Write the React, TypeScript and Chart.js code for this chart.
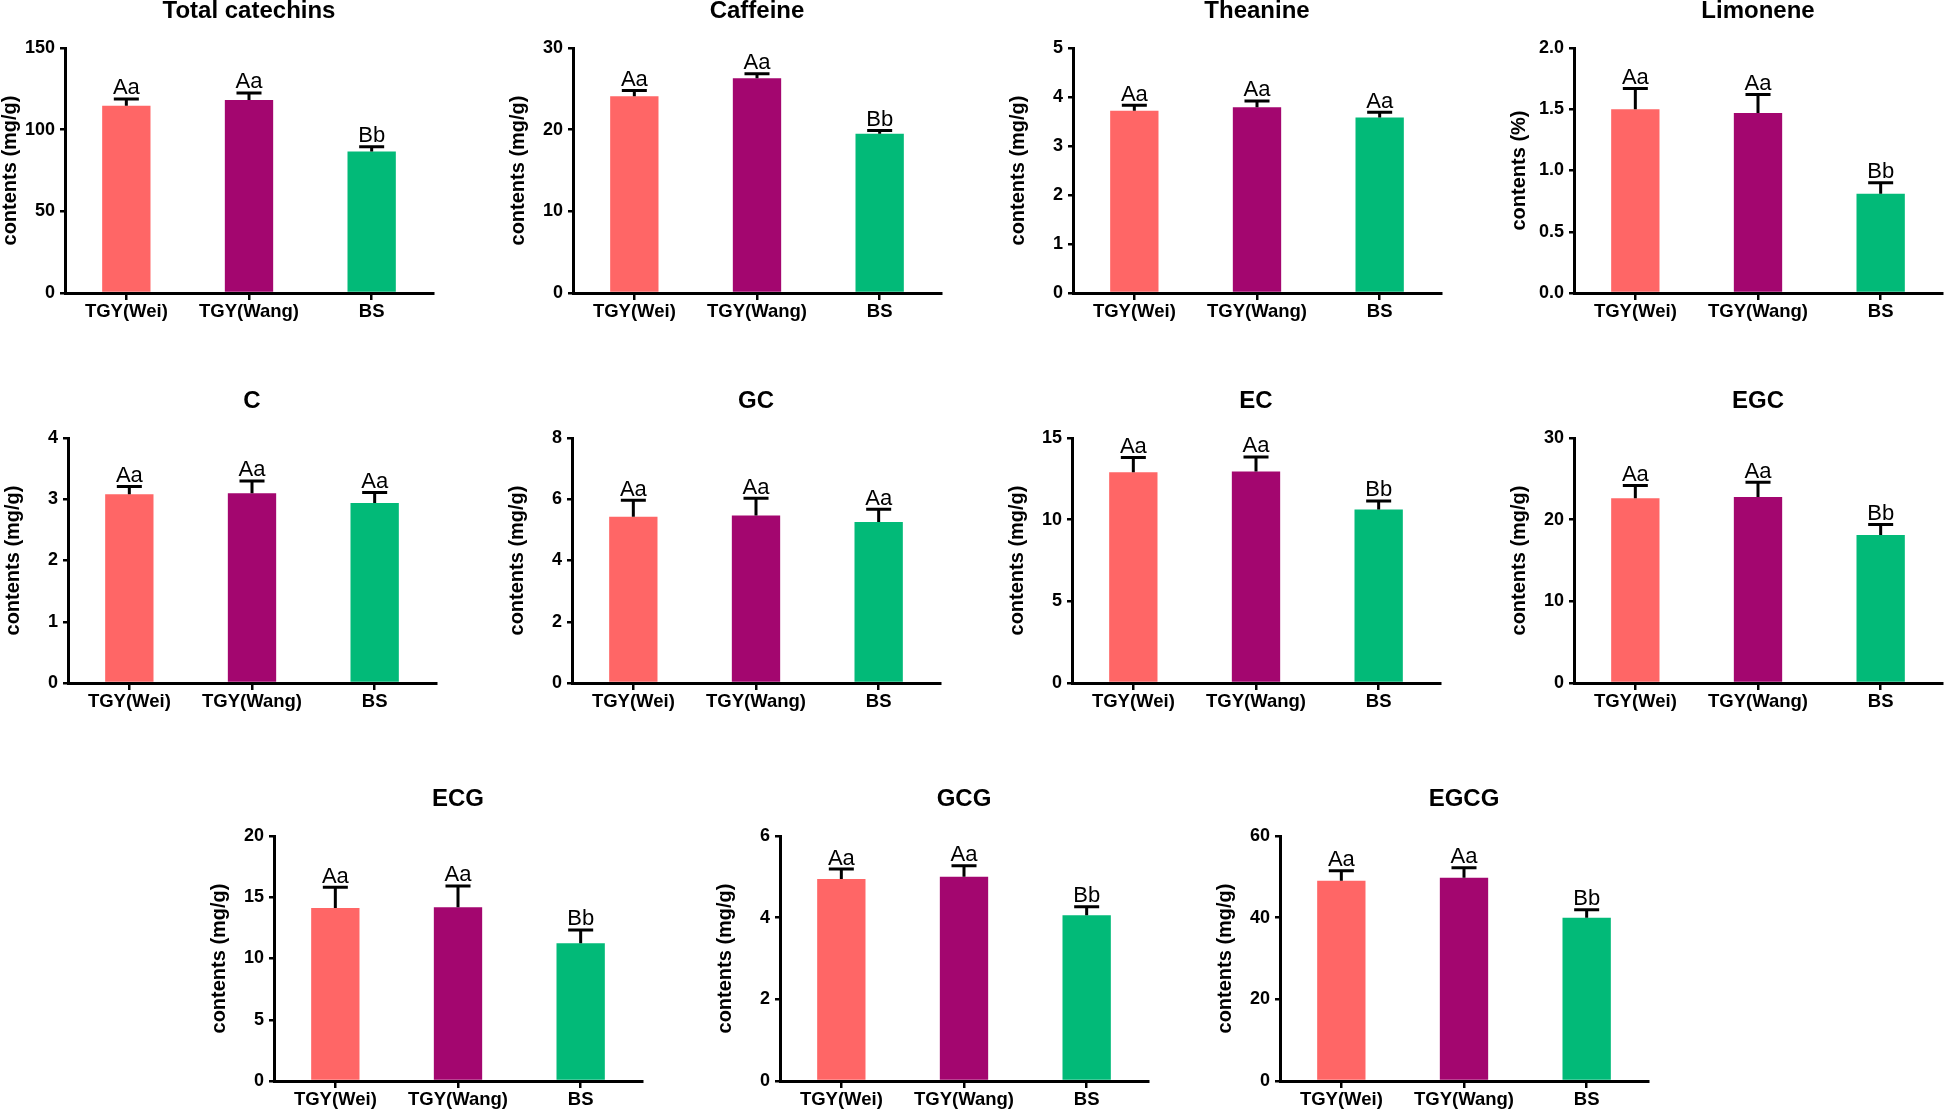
import React, { useEffect, useRef } from 'react';
import { Chart, registerables } from 'chart.js';

Chart.register(...registerables);

// ---------------- data ----------------
const categories = ['TGY(Wei)', 'TGY(Wang)', 'BS'];
const barColors = ['#FF6666', '#A3066F', '#02BA78'];

const panelTitles = ['Total catechins', 'Caffeine', 'Theanine', 'Limonene', 'C', 'GC', 'EC', 'EGC', 'ECG', 'GCG', 'EGCG'];
const yAxisTitles = [
  'contents (mg/g)', 'contents (mg/g)', 'contents (mg/g)', 'contents (%)',
  'contents (mg/g)', 'contents (mg/g)', 'contents (mg/g)', 'contents (mg/g)',
  'contents (mg/g)', 'contents (mg/g)', 'contents (mg/g)',
];
const yMax = [150, 30, 5, 2, 4, 8, 15, 30, 20, 6, 60];
const yStep = [50, 10, 1, 0.5, 1, 2, 5, 10, 5, 2, 20];

const totalCatechins = [114.7, 118.2, 86.7];
const totalCatechinsErr = [4.1, 4.3, 2.9];
const caffeine = [24.1, 26.3, 19.5];
const caffeineErr = [0.7, 0.55, 0.4];
const theanine = [3.72, 3.79, 3.58];
const theanineErr = [0.11, 0.13, 0.11];
const limonene = [1.5, 1.47, 0.81];
const limoneneErr = [0.17, 0.15, 0.09];
const cValues = [3.08, 3.1, 2.94];
const cErr = [0.13, 0.2, 0.17];
const gcValues = [5.43, 5.47, 5.26];
const gcErr = [0.54, 0.56, 0.41];
const ecValues = [12.91, 12.95, 10.63];
const ecErr = [0.89, 0.89, 0.52];
const egcValues = [22.63, 22.79, 18.11];
const egcErr = [1.55, 1.8, 1.31];
const ecgValues = [14.12, 14.18, 11.24];
const ecgErr = [1.69, 1.74, 1.09];
const gcgValues = [4.95, 5.0, 4.06];
const gcgErr = [0.24, 0.27, 0.21];
const egcgValues = [49.06, 49.8, 40.0];
const egcgErr = [2.44, 2.44, 1.96];

const lettersAAB = ['Aa', 'Aa', 'Bb'];
const lettersAAA = ['Aa', 'Aa', 'Aa'];

const means = [totalCatechins, caffeine, theanine, limonene, cValues, gcValues, ecValues, egcValues, ecgValues, gcgValues, egcgValues];
const errs = [totalCatechinsErr, caffeineErr, theanineErr, limoneneErr, cErr, gcErr, ecErr, egcErr, ecgErr, gcgErr, egcgErr];
const letters = [lettersAAB, lettersAAB, lettersAAA, lettersAAB, lettersAAA, lettersAAA, lettersAAB, lettersAAB, lettersAAB, lettersAAB, lettersAAB];

// ---------------- layout ----------------
const FONT = '"Liberation Sans", Arial, sans-serif';
const L = 75; // space left of plot area
const T = 48; // space above plot area
const R = 4;
const B = 45;
const PLOT_W = 368;
const PLOT_H = 245;
// plot-area left edge (y axis) and top for each panel
const axisX = [65, 573, 1073, 1574, 68, 572, 1072, 1574, 274, 780, 1280];
const plotTop = [48, 48, 48, 48, 438, 438, 438, 438, 836, 836, 836];

function makeOverlay(idx: number) {
  return {
    id: 'overlay' + idx,
    afterDatasetsDraw(chart: any) {
      const ctx = chart.ctx;
      const meta = chart.getDatasetMeta(0);
      const ys = chart.scales.y;
      ctx.save();
      ctx.strokeStyle = '#000';
      ctx.lineWidth = 3;
      ctx.fillStyle = '#000';
      ctx.font = `22px ${FONT}`;
      ctx.textAlign = 'center';
      ctx.textBaseline = 'alphabetic';
      meta.data.forEach((el: any, i: number) => {
        const m = means[idx][i];
        const e = errs[idx][i];
        const yTop = ys.getPixelForValue(m + e);
        const x = el.x;
        ctx.beginPath();
        ctx.moveTo(x, el.y);
        ctx.lineTo(x, yTop);
        ctx.moveTo(x - 12.5, yTop);
        ctx.lineTo(x + 12.5, yTop);
        ctx.stroke();
        ctx.fillText(letters[idx][i], x, yTop - 4.5);
      });
      ctx.restore();
    },
    afterDraw(chart: any) {
      const ctx = chart.ctx;
      const a = chart.chartArea;
      ctx.save();
      ctx.fillStyle = '#000';
      ctx.textAlign = 'center';
      ctx.textBaseline = 'alphabetic';
      ctx.font = `bold 24px ${FONT}`;
      ctx.fillText(panelTitles[idx], (a.left + a.right) / 2, a.top - 30);
      ctx.textBaseline = 'middle';
      ctx.translate(a.left - 54.5, (a.top + a.bottom) / 2);
      ctx.rotate(-Math.PI / 2);
      ctx.font = `bold 20px ${FONT}`;
      ctx.fillText(yAxisTitles[idx], 0, 0);
      ctx.restore();
    },
  };
}

function Panel({ idx }: { idx: number }) {
  const ref = useRef<HTMLCanvasElement>(null);
  const W = L + PLOT_W + R;
  const H = T + PLOT_H + B;
  useEffect(() => {
    const chart = new Chart(ref.current as HTMLCanvasElement, {
      type: 'bar',
      data: {
        labels: categories,
        datasets: [
          {
            data: means[idx],
            backgroundColor: barColors,
            borderWidth: 0,
            barPercentage: 0.394,
            categoryPercentage: 1,
          },
        ],
      },
      options: {
        responsive: false,
        animation: false,
        devicePixelRatio: 1,
        layout: { padding: { top: T, right: R, left: 0, bottom: 0 } },
        plugins: {
          legend: { display: false },
          tooltip: { enabled: false },
          title: { display: false },
        },
        scales: {
          x: {
            grid: { offset: false, drawOnChartArea: false, drawTicks: true, tickLength: 7, color: '#000', lineWidth: 2.5 },
            border: { display: true, color: '#000', width: 3 },
            ticks: { color: '#000', font: { family: FONT, size: 18.5, weight: 'bold' }, padding: 1, maxRotation: 0, autoSkip: false },
            afterFit: (s: any) => { s.height = B; },
          },
          y: {
            min: 0,
            max: yMax[idx],
            grid: { drawOnChartArea: false, drawTicks: true, tickLength: 5, color: '#000', lineWidth: 2.5 },
            border: { display: true, color: '#000', width: 3 },
            ticks: {
              stepSize: yStep[idx],
              color: '#000',
              font: { family: FONT, size: 18, weight: 'bold' },
              padding: 5,
              callback: (v: any) => (yStep[idx] < 1 ? Number(v).toFixed(1) : String(v)),
            },
            afterFit: (s: any) => { s.width = L; },
          },
        },
      } as any,
      plugins: [makeOverlay(idx)],
    });
    return () => chart.destroy();
  }, [idx]);
  return (
    <canvas
      ref={ref}
      width={W}
      height={H}
      style={{ position: 'absolute', left: axisX[idx] - L, top: plotTop[idx] - T, width: W, height: H }}
    />
  );
}

export default function App() {
  return (
    <div style={{ position: 'absolute', left: 0, top: 0, width: 1946, height: 1113, overflow: 'hidden', background: '#fff' }}>
      {panelTitles.map((_, i) => (
        <Panel key={i} idx={i} />
      ))}
    </div>
  );
}
